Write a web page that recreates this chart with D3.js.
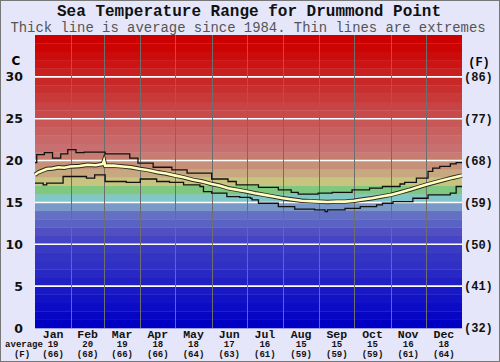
<!DOCTYPE html>
<html lang="en">
  <head>
    <meta charset="utf-8">
    <script src="https://d3js.org/d3.v7.min.js"></script>
    <title>Sea Temperature Range for Drummond Point</title>
    <style>
      body { margin: 0; background: #e6e6fa; }
    </style>
  </head>
  <body>
  <div id="chart"></div>
  <script>

    const months = ["Jan","Feb","Mar","Apr","May","Jun","Jul","Aug","Sep","Oct","Nov","Dec"];
    const monthStarts = [0,31,59,90,120,151,181,212,243,273,304,334,365];
    const monthAvgC = [19,20,19,18,18,17,16,15,15,15,16,18];
    const monthAvgF = [66,68,66,66,64,63,61,59,59,59,61,64];

    const cTicks = [0,5,10,15,20,25,30];
    const fLabels = ["(32)","(41)","(50)","(59)","(68)","(77)","(86)"];

    // [day of year, deg C]
    const upperExtreme = [[0,19.75],[1.5,20.7],[8,20.95],[15,20.3],[22,20.8],[28,21.3],[35,20.95],[42,21.0],
      [60,20.8],[81,20.3],[88,19.7],[101,19.2],[117,18.9],[130,18.5],[151,17.8],[165,17.5],[172,17.1],
      [191,16.8],[208,16.5],[219,16.2],[225,16.0],[242,16.1],[254,16.2],[271,16.5],[286,16.7],[297,16.9],
      [312,17.2],[316,17.4],[326,17.9],[336,18.7],[340,19.1],[346,19.3],[355,19.6],[360,19.75],[365,19.75]];

    const lowerExtreme = [[0,17.3],[7,17.1],[10,17.3],[24,18.1],[44,17.9],[51,18.3],[60,17.5],[78,17.4],
      [90,17.8],[104,17.5],[115,17.4],[127,17.1],[141,16.9],[144,16.3],[151,16.1],[164,15.7],[175,15.6],
      [184,15.5],[185.5,15.3],[191,14.9],[208,14.5],[222,14.2],[239,14.1],[248,13.9],[250,14.1],[265,14.3],
      [278,14.5],[292,14.7],[297,14.9],[306,15.1],[323,15.5],[336,15.9],[355,16.1],[360,16.9],[365,16.9]];

    const average = [[0,18.3],[3,18.6],[10,19.0],[15,19.05],[20,19.2],[25,19.15],[30,19.3],[38,19.35],[45,19.5],
      [52,19.45],[58,19.6],[59,20.0],[60,19.4],[67,19.4],[75,19.3],[82,19.2],[90,19.0],[97,18.85],[105,18.6],
      [112,18.45],[120,18.2],[127,18.0],[135,17.7],[143,17.5],[151,17.2],[158,17.0],[165,16.7],[173,16.5],
      [181,16.3],[188,16.1],[196,15.9],[204,15.7],[212,15.5],[220,15.35],[228,15.2],[235,15.15],[243,15.1],
      [250,15.05],[258,15.1],[265,15.1],[273,15.2],[280,15.35],[288,15.5],[296,15.7],[304,15.9],[312,16.2],
      [320,16.5],[327,16.8],[334,17.1],[342,17.4],[350,17.7],[357,17.95],[365,18.2]];

    // one colour per degree band, 0..35
    const bandColors = ["#0000c4","#0606c4","#0c0cc6","#1212c6","#1818c6","#2020c4","#2828c4","#3030c4",
      "#3434c4","#3a3ac4","#4444c4","#5050c4","#5a62c4","#6470c4","#7a98c8","#80c8c8","#80c880","#c8c480",
      "#c8a880","#c89078","#c87c70","#c87070","#c86868","#c86060","#c85858","#c84a4a","#c84444","#c83a3a",
      "#c83030","#c82828","#c82020","#cc1414","#cc0c0c","#cc0404","#cc0000"];

    const W = 500, H = 362;

    const svg = d3.select("#chart")
      .append("svg")
        .attr("width", W)
        .attr("height", H);

    svg.append("rect")
      .attr("x", 0.5).attr("y", 0.5)
      .attr("width", W - 1).attr("height", H - 1)
      .attr("fill", "#e6e6fa")
      .attr("stroke", "#777");

    const x = d3.scaleLinear().domain([0, 365]).range([35, 462]);
    const y = d3.scaleLinear().domain([0, 35]).range([328, 35]);

    svg.append("g")
      .selectAll("rect")
      .data(bandColors)
      .join("rect")
        .attr("x", x(0))
        .attr("width", x(365) - x(0))
        .attr("y", (d, i) => y(i + 1))
        .attr("height", (d, i) => y(i) - y(i + 1) + 0.3)
        .attr("fill", d => d);

    svg.append("g")
      .selectAll("line")
      .data(cTicks.filter(d => d > 0))
      .join("line")
        .attr("x1", x(0)).attr("x2", x(365))
        .attr("y1", d => y(d)).attr("y2", d => y(d))
        .attr("stroke", "#fff")
        .attr("stroke-width", 1.6);

    svg.append("g")
      .selectAll("line")
      .data(monthStarts.slice(1, 12))
      .join("line")
        .attr("x1", d => Math.round(x(d)) + 0.5).attr("x2", d => Math.round(x(d)) + 0.5)
        .attr("y1", y(35)).attr("y2", y(0))
        .attr("stroke", "#6e6e6e")
        .attr("stroke-width", 1);

    const line = d3.line()
      .x(d => x(d[0]))
      .y(d => y(d[1]));

    svg.append("path")
      .datum(upperExtreme)
      .attr("fill", "none")
      .attr("stroke", "#111")
      .attr("stroke-width", 1.3)
      .attr("d", line.curve(d3.curveStepAfter));

    svg.append("path")
      .datum(lowerExtreme)
      .attr("fill", "none")
      .attr("stroke", "#111")
      .attr("stroke-width", 1.3)
      .attr("d", line.curve(d3.curveStepAfter));

    line.curve(d3.curveLinear);
    svg.append("path")
      .datum(average)
      .attr("fill", "none")
      .attr("stroke", "#2a2a20")
      .attr("stroke-width", 4.4)
      .attr("d", line);
    svg.append("path")
      .datum(average)
      .attr("fill", "none")
      .attr("stroke", "#ffffc0")
      .attr("stroke-width", 2.6)
      .attr("d", line);

    svg.append("text")
      .attr("x", 249).attr("y", 16)
      .attr("text-anchor", "middle")
      .style("font-family", "'Liberation Mono', monospace")
      .style("font-weight", "bold")
      .style("font-size", "16px")
      .attr("fill", "#111")
      .text("Sea Temperature Range for Drummond Point");

    svg.append("text")
      .attr("x", 248).attr("y", 32)
      .attr("text-anchor", "middle")
      .style("font-family", "'Liberation Mono', monospace")
      .style("font-size", "13.9px")
      .attr("fill", "#555")
      .text("Thick line is average since 1984. Thin lines are extremes");

    const leftAxis = svg.append("g")
      .attr("transform", "translate(23,0)")
      .call(d3.axisLeft(y).tickValues(cTicks).tickSize(0).tickPadding(0));
    leftAxis.select(".domain").remove();
    leftAxis.selectAll("text")
      .style("font-family", "'DejaVu Sans', sans-serif")
      .style("font-weight", "bold")
      .style("font-size", "12.5px")
      .attr("fill", "#111");

    const rightAxis = svg.append("g")
      .attr("transform", "translate(464,0)")
      .call(d3.axisRight(y).tickValues(cTicks).tickSize(0).tickPadding(0)
        .tickFormat((d, i) => fLabels[i]));
    rightAxis.select(".domain").remove();
    rightAxis.selectAll("text")
      .style("font-family", "'Liberation Mono', monospace")
      .style("font-weight", "bold")
      .style("font-size", "12px")
      .attr("fill", "#111");

    svg.append("text")
      .attr("x", 16).attr("y", 65)
      .attr("text-anchor", "middle")
      .style("font-family", "'DejaVu Sans', sans-serif")
      .style("font-weight", "bold")
      .style("font-size", "12px")
      .text("C");

    svg.append("text")
      .attr("x", 479).attr("y", 66)
      .attr("text-anchor", "middle")
      .style("font-family", "'Liberation Mono', monospace")
      .style("font-weight", "bold")
      .style("font-size", "12px")
      .text("(F)");

    const mid = i => x((monthStarts[i] + monthStarts[i + 1]) / 2);

    const bottom = svg.append("g")
      .style("font-family", "'Liberation Mono', monospace")
      .style("font-weight", "bold")
      .attr("text-anchor", "middle")
      .attr("fill", "#111");

    bottom.selectAll(".mname")
      .data(months)
      .join("text")
        .attr("class", "mname")
        .attr("x", (d, i) => mid(i))
        .attr("y", 337.5)
        .style("font-size", "11.5px")
        .text(d => d);

    bottom.selectAll(".mavg")
      .data(monthAvgC)
      .join("text")
        .attr("class", "mavg")
        .attr("x", (d, i) => mid(i))
        .attr("y", 347)
        .style("font-size", "9px")
        .text(d => d);

    bottom.selectAll(".mf")
      .data(monthAvgF)
      .join("text")
        .attr("class", "mf")
        .attr("x", (d, i) => mid(i))
        .attr("y", 356.5)
        .style("font-size", "9px")
        .text(d => `(${d})`);

    bottom.append("text")
      .attr("x", 24).attr("y", 347)
      .style("font-size", "9px")
      .text("average");
    bottom.append("text")
      .attr("x", 22).attr("y", 356.5)
      .style("font-size", "9px")
      .text("(F)");

  </script>
  </body>
</html>
